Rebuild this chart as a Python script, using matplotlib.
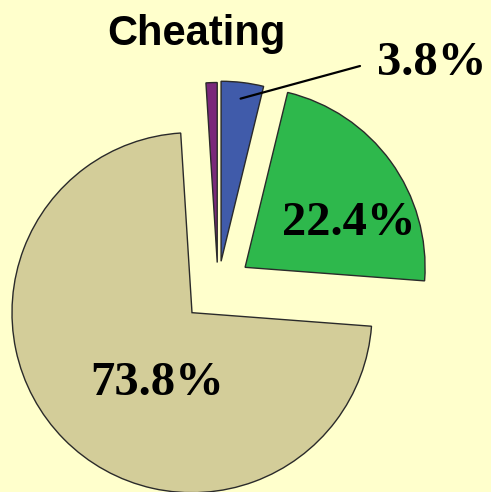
import numpy as np
import matplotlib
matplotlib.use("Agg")
import matplotlib.pyplot as plt

# ---- data ----
categories = ["Blue", "Green", "Tan", "Purple"]
values = [3.8, 22.4, 72.8, 1.0]
value_labels = ["3.8%", "22.4%", "73.8%", ""]
title = "Cheating"

colors = ["#405BAA", "#2EB84C", "#D3CD99", "#7A287A"]
explode = [0.144, 0.186, 0.203, 0.136]
bg = "#FFFFCC"

W, H = 491, 492
fig = plt.figure(figsize=(W / 100, H / 100), dpi=100)
fig.patch.set_facecolor(bg)
ax = fig.add_axes([0, 0, 1, 1])
ax.set_facecolor(bg)

wedges, _ = ax.pie(values, colors=colors, explode=explode, startangle=90,
                   counterclock=False, radius=1.0,
                   wedgeprops=dict(edgecolor="#2a2a2a", linewidth=1.0))

# pixel->unit mapping: centre at (218, 287) px, radius 180 px
s = 180.0
cx, cy = 218.0, 287.0
ax.set_xlim(-cx / s, (W - cx) / s)
ax.set_ylim((cy - H) / s, cy / s)
ax.set_aspect("equal")
ax.axis("off")

fig.text(196 / W, 1 - 45 / H, title, ha="center", va="baseline",
         fontsize=30, fontweight="bold", family=["Liberation Sans", "DejaVu Sans"])

lab_font = dict(fontsize=35, fontweight="bold", family=["Liberation Serif", "DejaVu Serif"])

# leader line from the blue wedge to the 3.8% label
w = wedges[0]
tm = np.deg2rad((w.theta1 + w.theta2) / 2)
pt = (w.center[0] + 0.91 * w.r * np.cos(tm), w.center[1] + 0.91 * w.r * np.sin(tm))
ax.annotate("", xy=pt, xycoords="data",
            xytext=(360 / W, 1 - 66 / H), textcoords="axes fraction",
            arrowprops=dict(arrowstyle="-", color="black", lw=1.6,
                            shrinkA=0, shrinkB=0))
ax.text(432 / W, 1 - 75 / H, value_labels[0], transform=ax.transAxes,
        ha="center", va="baseline", **lab_font)
ax.text(349 / W, 1 - 235 / H, value_labels[1], transform=ax.transAxes,
        ha="center", va="baseline", **lab_font)
ax.text(157 / W, 1 - 395 / H, value_labels[2], transform=ax.transAxes,
        ha="center", va="baseline", **lab_font)

fig.savefig("out.png", dpi=100, facecolor=bg)
